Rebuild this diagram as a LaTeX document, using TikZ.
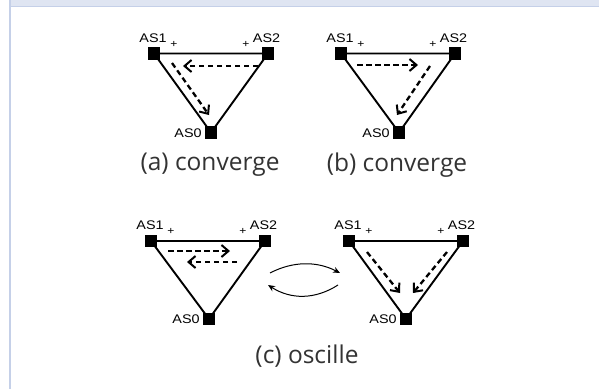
\documentclass[tikz,border=0pt]{standalone}
\usepackage{fontspec}
\setmainfont{Open Sans}
\newfontfamily\helv[FakeStretch=1.15]{Liberation Sans}
\usetikzlibrary{arrows.meta}
\definecolor{bandcol}{HTML}{DFE5F2}
\definecolor{linecol}{HTML}{C5D0E8}
\begin{document}
\begin{tikzpicture}[x=1pt,y=-1pt,
 as/.style={fill=black,minimum size=12.5pt,inner sep=0pt},
 lab/.style={font=\helv\fontsize{12.5}{12.5}\selectfont,inner sep=0pt},
 plus/.style={font=\helv\fontsize{10.5}{10.5}\selectfont,inner sep=0pt},
 edge/.style={line width=1.9pt},
 dsh/.style={line width=2.3pt,dash pattern=on 5.5pt off 3.5pt,-{Straight Barb[length=7pt,width=12pt,line width=2pt]}},
 swap/.style={line width=1pt,-{Stealth[length=7pt,width=6pt]}},
 captext/.style={font=\fontsize{24.5}{24.5}\selectfont,text=black!80,inner sep=0pt}
]
\useasboundingbox (0,0) rectangle (599,389);
% frame
\fill[bandcol] (10.5,0) rectangle (599,6);
\draw[linecol,line width=1.2pt] (10.5,6.2) -- (599,6.2);
\draw[linecol,line width=1.8pt] (9.9,0) -- (9.9,389);

% (a)
\node[as] (a1) at (154,53.5) {};
\node[as] (a2) at (268,53.5) {};
\node[as] (a0) at (211,132.5) {};
\draw[edge] (a1.center) -- (a2.center) -- (a0.center) -- cycle;
\node[lab] (la1) at (153,38) {AS1};
\node[lab] (la2) at (266.5,38) {AS2};
\node[lab] (la0) at (188,133) {AS0};
\node[plus] (pa1) at (174,44) {+};
\node[plus] (pa2) at (246,44) {+};
\coordinate (ah1) at (258,66); \coordinate (ah2) at (183,66);
\coordinate (ad1) at (172,63); \coordinate (ad2) at (209,115);
\draw[dsh] (ah1) -- (ah2);
\draw[dsh] (ad1) -- (ad2);
\node[captext] (capa) at (210,165) {(a) converge};

% (b)
\node[as] (b1) at (341,53.5) {};
\node[as] (b2) at (455,53.5) {};
\node[as] (b0) at (399,132.5) {};
\draw[edge] (b1.center) -- (b2.center) -- (b0.center) -- cycle;
\node[lab] (lb1) at (340,38) {AS1};
\node[lab] (lb2) at (453.5,38) {AS2};
\node[lab] (lb0) at (376,133) {AS0};
\node[plus] (pb1) at (361,44) {+};
\node[plus] (pb2) at (433,44) {+};
\coordinate (bh1) at (357,65); \coordinate (bh2) at (418,65);
\coordinate (bd1) at (430,66); \coordinate (bd2) at (397,115);
\draw[dsh] (bh1) -- (bh2);
\draw[dsh] (bd1) -- (bd2);
\node[captext] (capb) at (397,165) {(b) converge};

% (c) left
\node[as] (c1) at (151,241) {};
\node[as] (c2) at (265,241) {};
\node[as] (c0) at (209,319) {};
\draw[edge] (c1.center) -- (c2.center) -- (c0.center) -- cycle;
\node[lab] (lc1) at (150,225.5) {AS1};
\node[lab] (lc2) at (263.5,225.5) {AS2};
\node[lab] (lc0) at (186,319.5) {AS0};
\node[plus] (pc1) at (171,231.5) {+};
\node[plus] (pc2) at (243,231.5) {+};
\coordinate (ch1) at (168,251); \coordinate (ch2) at (230,251);
\coordinate (ci1) at (237,262); \coordinate (ci2) at (187,262);
\draw[dsh] (ch1) -- (ch2);
\draw[dsh] (ci1) -- (ci2);

% (c) right
\node[as] (d1) at (349,241) {};
\node[as] (d2) at (463,241) {};
\node[as] (d0) at (406,319) {};
\draw[edge] (d1.center) -- (d2.center) -- (d0.center) -- cycle;
\node[lab] (ld1) at (348,225.5) {AS1};
\node[lab] (ld2) at (461.5,225.5) {AS2};
\node[lab] (ld0) at (383,319.5) {AS0};
\node[plus] (pd1) at (369,231.5) {+};
\node[plus] (pd2) at (441,231.5) {+};
\coordinate (dd1) at (367,252); \coordinate (dd2) at (400,293);
\coordinate (de1) at (447,252); \coordinate (de2) at (413,293);
\draw[dsh] (dd1) -- (dd2);
\draw[dsh] (de1) -- (de2);

% oscillation arrows
\coordinate (o1) at (270,273); \coordinate (o2) at (340,273);
\coordinate (o3) at (338,285); \coordinate (o4) at (268,285);
\draw[swap] (o1) .. controls (293,261) and (317,261) .. (o2);
\draw[swap] (o3) .. controls (315,299.7) and (291,299.7) .. (o4);

\node[captext] (capc) at (307,356) {(c) oscille};
\end{tikzpicture}
\end{document}
